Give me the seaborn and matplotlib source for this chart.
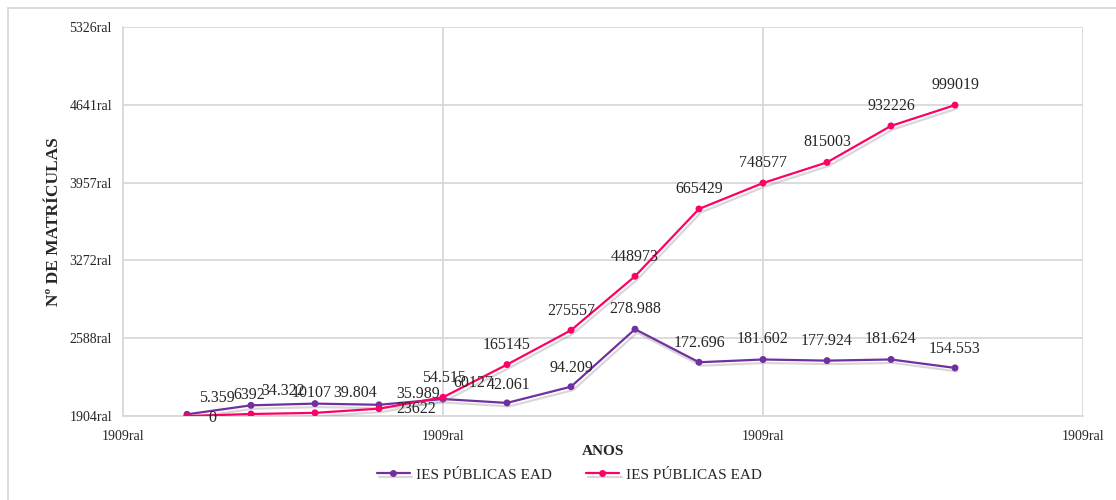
import matplotlib
matplotlib.use("Agg")
import matplotlib.pyplot as plt
import matplotlib.patheffects as pe
from matplotlib.lines import Line2D
import seaborn as sns
import pandas as pd

# ---- data ----
x_pos = [1, 2, 3, 4, 5, 6, 7, 8, 9, 10, 11, 12, 13]
purple_vals = [5359, 34322, 39804, 35989, 54515, 42061, 94209, 278988,
               172696, 181602, 177924, 181624, 154553]
purple_labels = ["5.359", "34.322", "39.804", "35.989", "54.515", "42.061", "94.209",
                 "278.988", "172.696", "181.602", "177.924", "181.624", "154.553"]
pink_vals = [0, 6392, 10107, 23622, 60127, 165145, 275557, 448973,
             665429, 748577, 815003, 932226, 999019]
pink_labels = ["0", "6392", "10107", "23622", "60127", "165145", "275557", "448973",
               "665429", "748577", "815003", "932226", "999019"]
series_names = ["IES PÚBLICAS EAD", "IES PÚBLICAS EAD"]
y_ticks = [0, 250000, 500000, 750000, 1000000, 1250000]
y_ticklabels = ["1904ral", "2588ral", "3272ral", "3957ral", "4641ral", "5326ral"]
x_ticks = [0, 5, 10, 15]
x_ticklabels = ["1909ral", "1909ral", "1909ral", "1909ral"]

# label offsets in pixels (dx, dy up-positive)
purple_off = [(30, 16), (32, 14), (40, 11), (39, 11), (1, 21), (2, 18), (0, 19),
              (0, 20), (0, 19), (0, 20), (0, 20), (0, 20), (0, 19)]
pink_off = [(25, -2), (-2, 19), (-3, 20), (37, 0), (30, 14), (0, 20), (0, 19),
            (0, 19), (0, 20), (0, 20), (0, 20), (0, 20), (0, 20)]

PURPLE = "#7030A0"
PINK = "#FF0066"
GRID = "#D9D9D9"

sns.set_theme(style="white")
plt.rcParams["font.family"] = ["Liberation Serif", "DejaVu Serif"]

fig = plt.figure(figsize=(11.16, 5.0), dpi=100)
ax = fig.add_axes([123 / 1116, 1 - 416 / 500, (1083 - 123) / 1116, (416 - 27) / 500])

shadow = [pe.SimpleLineShadow(offset=(1.5, -2.5), shadow_color="gray", alpha=0.3),
          pe.Normal()]

df_p = pd.DataFrame({"x": x_pos, "y": purple_vals})
df_k = pd.DataFrame({"x": x_pos, "y": pink_vals})
sns.lineplot(data=df_p, x="x", y="y", ax=ax, color=PURPLE, marker="o", markersize=5,
             markeredgewidth=0, linewidth=1.6, label=series_names[0], zorder=4,
             path_effects=shadow)
sns.lineplot(data=df_k, x="x", y="y", ax=ax, color=PINK, marker="o", markersize=5,
             markeredgewidth=0, linewidth=1.6, label=series_names[1], zorder=5,
             path_effects=shadow)

ax.set_xlim(0, 15)
ax.set_ylim(0, 1250000)
ax.set_xticks(x_ticks)
ax.set_xticklabels(x_ticklabels)
ax.set_yticks(y_ticks)
ax.set_yticklabels(y_ticklabels)
ax.tick_params(axis="both", length=0, labelsize=10, colors="#262626")
ax.tick_params(axis="y", pad=8)
ax.tick_params(axis="x", pad=10)
ax.grid(True, color=GRID, linewidth=1.3)
ax.set_axisbelow(True)
for s in ["top", "right"]:
    ax.spines[s].set_visible(False)
for s in ["left", "bottom"]:
    ax.spines[s].set_color(GRID)
    ax.spines[s].set_linewidth(1.3)

px = 72 / 100  # pixels -> points
for xv, yv, lab, (dx, dy) in zip(x_pos, purple_vals, purple_labels, purple_off):
    ax.annotate(lab, (xv, yv), xytext=(dx * px, dy * px), textcoords="offset points",
                ha="center", va="center", fontsize=11.5, color="#262626", zorder=6)
for xv, yv, lab, (dx, dy) in zip(x_pos, pink_vals, pink_labels, pink_off):
    ax.annotate(lab, (xv, yv), xytext=(dx * px, dy * px), textcoords="offset points",
                ha="center", va="center", fontsize=11.5, color="#262626", zorder=6)

ax.set_xlabel("ANOS", fontsize=11, fontweight="bold", color="#262626")
ax.xaxis.set_label_coords(0.5, -(445 - 416) / 389)
ax.set_ylabel("Nº DE MATRÍCULAS", fontsize=12.5, fontweight="bold", color="#262626")
ax.yaxis.set_label_coords(-(123 - 62) / 960, 0.5)

leg = ax.legend(loc="center", bbox_to_anchor=(569 / 1116, 1 - 475 / 500),
                bbox_transform=fig.transFigure, ncol=2, frameon=False, fontsize=11,
                handlelength=2.2, columnspacing=2.2, handletextpad=0.4)
for t in leg.get_texts():
    t.set_color("#262626")

# outer chart border
fig.add_artist(Line2D([8 / 1116, 8 / 1116], [0, 1 - 8 / 500], transform=fig.transFigure,
                      color=GRID, linewidth=1.3))
fig.add_artist(Line2D([8 / 1116, 1], [1 - 8 / 500, 1 - 8 / 500], transform=fig.transFigure,
                      color=GRID, linewidth=1.3))

fig.savefig("out.png", dpi=100)
